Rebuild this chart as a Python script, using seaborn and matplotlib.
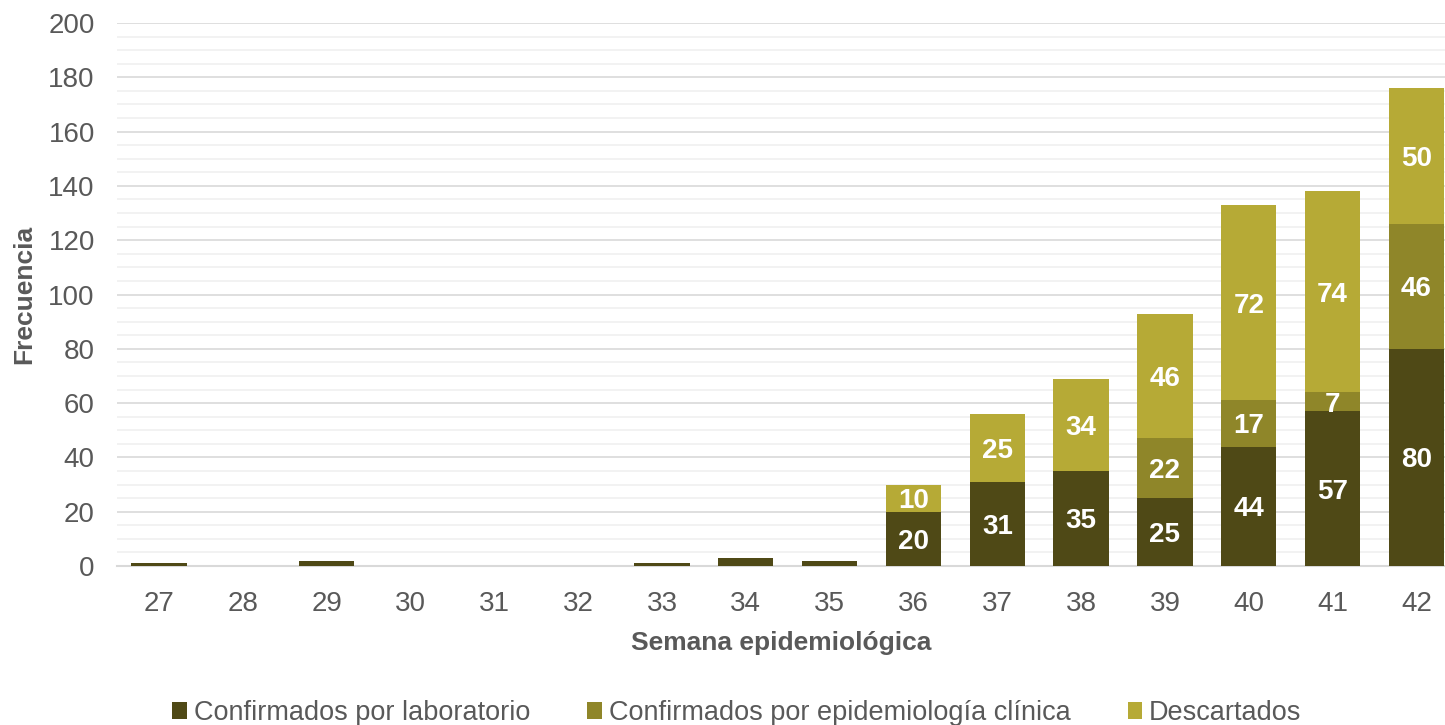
import matplotlib
matplotlib.use('Agg')
import matplotlib.pyplot as plt
from matplotlib.patches import Patch
from matplotlib.ticker import MultipleLocator
import pandas as pd
import seaborn as sns

# datos por semana epidemiológica
semanas = ['27', '28', '29', '30', '31', '32', '33', '34', '35', '36', '37', '38', '39', '40', '41', '42']
laboratorio = [1, 0, 2, 0, 0, 0, 1, 3, 2, 20, 31, 35, 25, 44, 57, 80]
epidemiologia = [0, 0, 0, 0, 0, 0, 0, 0, 0, 0, 0, 0, 22, 17, 7, 46]
descartados = [0, 0, 0, 0, 0, 0, 0, 0, 0, 10, 25, 34, 46, 72, 74, 50]
series = ['Confirmados por laboratorio', 'Confirmados por epidemiología clínica', 'Descartados']
colores = ['#4f4916', '#8f8629', '#b6aa36']

df = pd.DataFrame({'semana': semanas, 'lab': laboratorio, 'epi': epidemiologia, 'desc': descartados})
df['lab_epi'] = df['lab'] + df['epi']
df['total'] = df['lab_epi'] + df['desc']

sns.set_style('white')
plt.rcParams['font.family'] = ['Liberation Sans', 'DejaVu Sans']
gris = '#595959'
fs = 20

fig = plt.figure(figsize=(14.45, 7.25), dpi=100)
ax = fig.add_axes([117 / 1445, 1 - 566 / 725, (1445 - 117) / 1445, (566 - 23) / 725])

ancho = 0.66
# barras apiladas: total, luego lab+epi, luego lab encima
sns.barplot(data=df, x='semana', y='total', order=semanas, color=colores[2], width=ancho,
            saturation=1, ax=ax, zorder=3)
sns.barplot(data=df, x='semana', y='lab_epi', order=semanas, color=colores[1], width=ancho,
            saturation=1, ax=ax, zorder=3)
sns.barplot(data=df, x='semana', y='lab', order=semanas, color=colores[0], width=ancho,
            saturation=1, ax=ax, zorder=3)
for p in ax.patches:
    p.set_edgecolor('none')

# etiquetas de valores
for i, row in df.iterrows():
    if row['lab'] >= 10:
        ax.text(i, row['lab'] / 2, str(row['lab']), ha='center', va='center_baseline',
                color='white', fontsize=fs, fontweight='bold', zorder=5)
    if row['epi'] > 0:
        ax.text(i, row['lab'] + row['epi'] / 2, str(row['epi']), ha='center', va='center_baseline',
                color='white', fontsize=fs, fontweight='bold', zorder=5)
    if row['desc'] > 0:
        ax.text(i, row['lab_epi'] + row['desc'] / 2, str(row['desc']), ha='center', va='center_baseline',
                color='white', fontsize=fs, fontweight='bold', zorder=5)

ax.set_ylim(0, 200)
ax.set_xlim(-0.5, 15.34)
ax.yaxis.set_major_locator(MultipleLocator(20))
ax.yaxis.set_minor_locator(MultipleLocator(5))
ax.grid(which='major', axis='y', color='#d9d9d9', linewidth=1.2, zorder=0)
ax.grid(which='minor', axis='y', color='#f0f0f0', linewidth=1.2, zorder=0)
ax.set_axisbelow(True)
for s in ['top', 'right', 'left']:
    ax.spines[s].set_visible(False)
ax.spines['bottom'].set_color('#d9d9d9')
ax.spines['bottom'].set_linewidth(1.5)
ax.tick_params(axis='both', which='both', length=0, labelsize=fs, labelcolor=gris)
ax.tick_params(axis='x', pad=18)
ax.tick_params(axis='y', pad=16)

ax.set_xlabel('Semana epidemiológica', fontsize=fs - 1, fontweight='bold', color=gris, labelpad=10)
ax.set_ylabel('Frecuencia', fontsize=fs - 1, fontweight='bold', color=gris, labelpad=9)

handles = [Patch(facecolor=c, edgecolor='none') for c in colores]
fig.legend(handles, series, loc='lower center', bbox_to_anchor=(0.51, -0.035), ncol=3,
           frameon=False, fontsize=19.5, handlelength=0.55, handleheight=0.55,
           handletextpad=0.25, columnspacing=2.1, labelcolor=gris)

fig.savefig('out.png', dpi=100)
